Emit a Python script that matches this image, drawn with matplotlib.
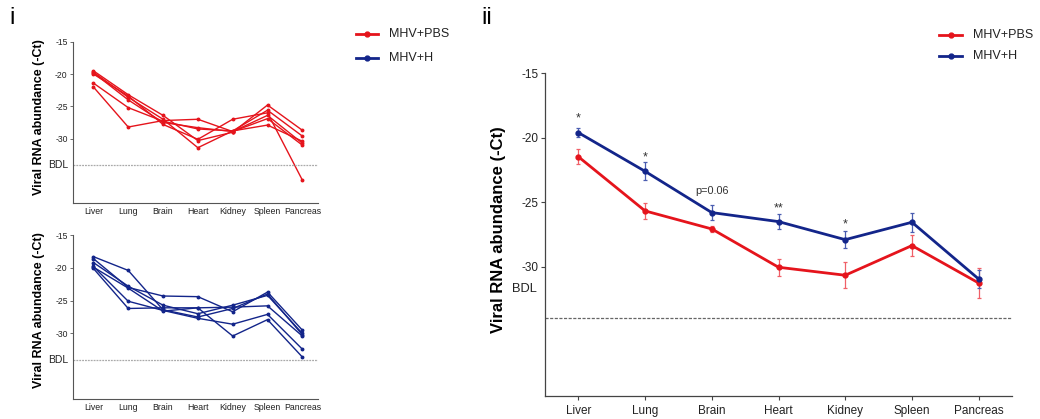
import matplotlib
matplotlib.use("Agg")
import matplotlib.pyplot as plt
from matplotlib.lines import Line2D
import numpy as np

plt.rcParams['font.family'] = ['Liberation Sans', 'DejaVu Sans']

organs = ["Liver", "Lung", "Brain", "Heart", "Kidney", "Spleen", "Pancreas"]

# Individual animals, MHV+PBS (panel i, top)
pbs_individual = [
    [-19.5, -23.2, -26.4, -30.3, -29.0, -24.8, -28.7],
    [-19.7, -23.6, -27.0, -31.4, -28.8, -25.6, -29.6],
    [-19.8, -24.0, -27.5, -28.3, -28.9, -26.4, -30.7],
    [-20.0, -23.4, -27.8, -30.1, -27.0, -26.0, -36.4],
    [-21.4, -25.2, -27.3, -28.5, -28.8, -27.9, -30.4],
    [-22.0, -28.2, -27.2, -27.0, -28.9, -26.9, -31.0],
]

# Individual animals, MHV+H (panel i, bottom)
h_individual = [
    [-18.3, -20.4, -26.4, -27.5, -26.2, -24.0, -30.2],
    [-18.6, -23.0, -24.3, -24.4, -26.7, -23.7, -29.5],
    [-19.2, -22.8, -25.7, -27.0, -25.7, -24.2, -30.0],
    [-19.8, -25.1, -26.5, -27.7, -28.6, -27.1, -32.4],
    [-20.1, -26.2, -26.1, -26.1, -30.4, -27.9, -33.6],
    [-19.9, -23.1, -26.6, -26.1, -26.0, -25.8, -30.4],
]

# Group means and errors (panel ii)
pbs_mean = [-21.47, -25.67, -27.07, -30.04, -30.66, -28.36, -31.26]
pbs_err = [0.6, 0.62, 0.26, 0.65, 1.0, 0.84, 1.19]
h_mean = [-19.6, -22.6, -25.8, -26.5, -27.9, -26.55, -30.95]
h_err = [0.35, 0.7, 0.55, 0.58, 0.65, 0.72, 0.7]

sig_labels = ["*", "*", "p=0.06", "**", "*"]
sig_y = [-18.5, -21.5, -24.1, -25.5, -26.75]

bdl = -34
yticks = [-15, -20, -25, -30]

RED = "#E5141C"
BLUE = "#13258A"

W, H = 1040, 419
fig = plt.figure(figsize=(W / 100, H / 100), dpi=100)

def fx(px):
    return px / W

def fy(py):
    return 1 - py / H

x = np.arange(len(organs))

def small_panel(top, bottom, data, color):
    ax = fig.add_axes([fx(72.5), fy(bottom), fx(318 - 72.5), (bottom - top) / H])
    for row in data:
        ax.plot(x, row, color=color, lw=1.0, marker='o', ms=1.8)
    ax.axhline(bdl, color="#aaaaaa", lw=0.9, ls=(0, (1.5, 0.8)))
    ax.set_ylim(-40, -15)
    ax.set_xlim(-0.6, 6.45)
    ax.set_yticks(yticks)
    ax.set_yticklabels([str(t) for t in yticks], fontsize=6.2)
    ax.set_xticks(x)
    ax.set_xticklabels(organs, fontsize=6.3)
    for s in ["top", "right"]:
        ax.spines[s].set_visible(False)
    for s in ["left", "bottom"]:
        ax.spines[s].set_color("#555555")
        ax.spines[s].set_linewidth(0.8)
    ax.tick_params(axis='both', length=2, width=0.6, color="#555555", pad=1.5, labelcolor="#222222")
    ax.tick_params(axis='x', length=0, pad=3)
    ax.text(-0.018, bdl, "BDL", transform=ax.get_yaxis_transform(), ha='right', va='center',
            fontsize=7.5, color="#222222")
    return ax

small_panel(41.7, 203.3, pbs_individual, RED)
small_panel(235, 399, h_individual, BLUE)

fig.text(fx(39), fy(117.5), "Viral RNA abundance (-Ct)", rotation=90, ha='center', va='center',
         fontsize=9, fontweight='bold')
fig.text(fx(39), fy(310), "Viral RNA abundance (-Ct)", rotation=90, ha='center', va='center',
         fontsize=9, fontweight='bold')

# Big panel ii
ax = fig.add_axes([fx(545), fy(395.7), fx(1012 - 545), (395.7 - 73.3) / H])
ax.errorbar(x, pbs_mean, yerr=pbs_err, color=RED, lw=2.0, marker='o', ms=3.5,
            elinewidth=0.9, capsize=1.5, capthick=0.9, ecolor="#F06068")
ax.errorbar(x, h_mean, yerr=h_err, color=BLUE, lw=2.0, marker='o', ms=3.5,
            elinewidth=0.9, capsize=1.5, capthick=0.9, ecolor="#4A5DB0")
ax.axhline(bdl, color="#666666", lw=0.9, ls=(0, (2.5, 1.2)))
ax.set_ylim(-40, -15)
ax.set_xlim(-0.5, 6.5)
ax.set_yticks(yticks)
ax.set_yticklabels([str(t) for t in yticks], fontsize=8.5)
ax.set_xticks(x)
ax.set_xticklabels(organs, fontsize=8.5)
for s in ["top", "right"]:
    ax.spines[s].set_visible(False)
for s in ["left", "bottom"]:
    ax.spines[s].set_color("#444444")
    ax.spines[s].set_linewidth(0.9)
ax.tick_params(axis='both', length=3, width=0.8, color="#444444", pad=1.5, labelcolor="#222222")
ax.tick_params(axis='x', pad=4)
ax.text(-0.017, -31.7, "BDL", transform=ax.get_yaxis_transform(), ha='right', va='center',
        fontsize=9.3, color="#222222")
for i, (lab, yv) in enumerate(zip(sig_labels, sig_y)):
    fs = 7.8 if lab.startswith("p") else 9
    ax.text(x[i], yv, lab, ha='center', va='center', fontsize=fs, color="#333333")

fig.text(fx(499), fy(230), "Viral RNA abundance (-Ct)", rotation=90, ha='center', va='center',
         fontsize=12, fontweight='bold')

# Legends
def legend_entry(x0, x1, y, tx, label, color):
    fig.add_artist(Line2D([fx(x0), fx(x1)], [fy(y), fy(y)], transform=fig.transFigure,
                          color=color, lw=2.0))
    fig.add_artist(Line2D([fx((x0 + x1) / 2)], [fy(y)], transform=fig.transFigure,
                          color=color, marker='o', ms=3.5))
    fig.text(fx(tx), fy(y), label, ha='left', va='center', fontsize=9, color="#222222")

legend_entry(356, 378, 34, 389, "MHV+PBS", RED)
legend_entry(356, 378, 58, 389, "MHV+H", BLUE)
legend_entry(939, 962, 35, 973, "MHV+PBS", RED)
legend_entry(939, 962, 56, 973, "MHV+H", BLUE)

fig.text(fx(9), fy(18), "i", ha='left', va='center', fontsize=17)
fig.text(fx(481), fy(18), "ii", ha='left', va='center', fontsize=17)

fig.savefig("out.png", dpi=100)
